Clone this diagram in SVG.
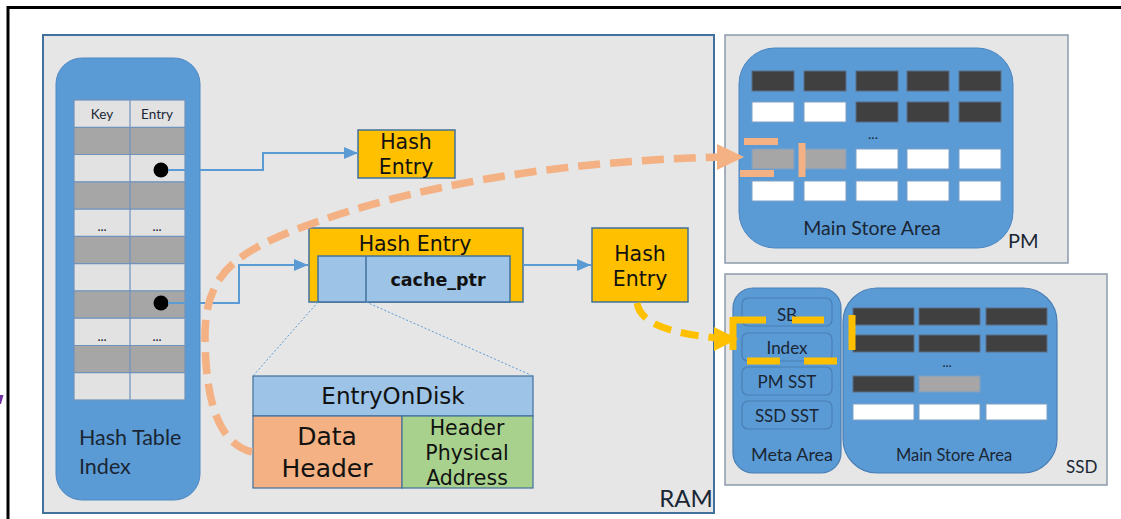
<svg xmlns="http://www.w3.org/2000/svg" width="1121" height="519" viewBox="0 0 1121 519">
  <style>
    .yel { fill: #ffc000; stroke: #41719c; stroke-width: 1.5; }
    .he { font-family: "DejaVu Sans", sans-serif; font-size: 20.5px; fill: #111; text-anchor: middle; }
    .lato { font-family: Lato, "Liberation Sans", sans-serif; fill: #1a2634; }
    .mid { text-anchor: middle; }
    .conn { fill: none; stroke: #5b9bd5; stroke-width: 2; }
    .thin { fill: none; stroke: #5b9bd5; stroke-width: 1; stroke-dasharray: 2 2; }
    .dk { fill: #404040; stroke: #5b6f86; stroke-width: 1; }
    .wh { fill: #ffffff; stroke: #7f9fc4; stroke-width: 1; }
    .gr { fill: #a6a6a6; stroke: #7f9fc4; stroke-width: 1; }
    .meta { fill: #5b9bd5; stroke: #4a7fb5; stroke-width: 1.2; }
    .tl { fill: #e2e2e2; }
    .tg { fill: #a6a6a6; }
  </style>
  <defs>
    <marker id="blueArrow" viewBox="0 0 14 12" refX="14" refY="6" markerWidth="14" markerHeight="12" markerUnits="userSpaceOnUse" orient="auto">
      <path d="M0,0 L14,6 L0,12 Z" fill="#5b9bd5"/>
    </marker>
  </defs>

  <rect width="1121" height="519" fill="#ffffff"/>
  <!-- outer frame -->
  <path d="M8,519 V7.5 H1121" fill="none" stroke="#000" stroke-width="3"/>
  <polygon points="0,395 3.5,395 1,404 0,404" fill="#7030a0"/>

  <!-- RAM container -->
  <g id="ram">
    <rect x="43" y="35" width="671" height="478" fill="#e6e6e6" stroke="#41719c" stroke-width="2"/>
    <text x="686" y="507" class="lato mid" font-size="24" fill="#111">RAM</text>
  </g>

  <!-- hash table index -->
  <g id="hash-table-index">
    <rect x="56" y="58" width="144" height="442" rx="26" fill="#5b9bd5" stroke="#4e88c4" stroke-width="1"/>
    <rect x="74" y="100" width="111" height="27.3" class="tl"/>
    <rect x="74" y="127.3" width="111" height="27.3" class="tg"/>
    <rect x="74" y="154.5" width="111" height="27.3" class="tl"/>
    <rect x="74" y="181.8" width="111" height="27.3" class="tg"/>
    <rect x="74" y="209.1" width="111" height="27.3" class="tl"/>
    <rect x="74" y="236.4" width="111" height="27.3" class="tg"/>
    <rect x="74" y="263.6" width="111" height="27.3" class="tl"/>
    <rect x="74" y="290.9" width="111" height="27.3" class="tg"/>
    <rect x="74" y="318.2" width="111" height="27.3" class="tl"/>
    <rect x="74" y="345.5" width="111" height="27.3" class="tg"/>
    <rect x="74" y="372.7" width="111" height="27.3" class="tl"/>
    <path d="M74,127.3 H185 M74,154.5 H185 M74,181.8 H185 M74,209.1 H185 M74,236.4 H185 M74,263.6 H185 M74,290.9 H185 M74,318.2 H185 M74,345.5 H185 M74,372.7 H185 M130,100 V400" stroke="#6f93bd" stroke-width="1.2" fill="none"/>
    <rect x="74" y="100" width="111" height="300" fill="none" stroke="#6f93bd" stroke-width="1.2"/>
    <text x="102" y="119" class="lato mid" font-size="13.5">Key</text>
    <text x="157" y="119" class="lato mid" font-size="13.5">Entry</text>
    <text x="102" y="230.5" class="lato mid" font-size="13">...</text>
    <text x="157" y="230.5" class="lato mid" font-size="13">...</text>
    <text x="102" y="340.5" class="lato mid" font-size="13">...</text>
    <text x="157" y="340.5" class="lato mid" font-size="13">...</text>
    <circle cx="161" cy="170" r="7.5" fill="#000"/>
    <circle cx="161" cy="303" r="7.5" fill="#000"/>
    <text x="79" y="445" class="lato" font-size="21.5">Hash Table</text>
    <text x="79" y="474" class="lato" font-size="21.5">Index</text>
  </g>

  <!-- hash entries -->
  <g id="hash-entry-top">
    <rect x="358" y="130" width="97" height="48" class="yel"/>
    <text x="406" y="149" class="he">Hash</text>
    <text x="406" y="174" class="he">Entry</text>
  </g>
  <g id="hash-entry-cached">
    <rect x="309" y="228" width="214" height="74" class="yel"/>
    <text x="415" y="251" class="he">Hash Entry</text>
    <rect x="318" y="256" width="192" height="46" fill="#9dc3e6" stroke="#41719c" stroke-width="1.5"/>
    <line x1="366" y1="256" x2="366" y2="302" stroke="#41719c" stroke-width="1.5"/>
    <text x="438" y="286" font-family="'DejaVu Sans', sans-serif" font-weight="bold" font-size="17.5" fill="#111" text-anchor="middle">cache_ptr</text>
  </g>
  <g id="hash-entry-next">
    <rect x="592" y="228" width="96" height="74" class="yel"/>
    <text x="640" y="261" class="he">Hash</text>
    <text x="640" y="286" class="he">Entry</text>
  </g>

  <!-- on-disk entry layout -->
  <g id="entry-on-disk">
    <rect x="253" y="376" width="280" height="40" fill="#9dc3e6" stroke="#41719c" stroke-width="1.2"/>
    <rect x="253" y="416" width="149" height="72" fill="#f4b183" stroke="#41719c" stroke-width="1.2"/>
    <rect x="402" y="416" width="131" height="72" fill="#a9d18e" stroke="#41719c" stroke-width="1.2"/>
    <text x="393" y="404" font-family="'DejaVu Sans', sans-serif" font-size="23" fill="#111" text-anchor="middle">EntryOnDisk</text>
    <text x="327" y="445" font-family="'DejaVu Sans', sans-serif" font-size="25" fill="#111" text-anchor="middle">Data</text>
    <text x="327" y="477" font-family="'DejaVu Sans', sans-serif" font-size="25" fill="#111" text-anchor="middle">Header</text>
    <text x="467" y="435" class="he" font-size="20">Header</text>
    <text x="467" y="460" class="he" font-size="20">Physical</text>
    <text x="467" y="485" class="he" font-size="20">Address</text>
  </g>

  <!-- PM device -->
  <g id="pm">
    <rect x="725" y="35" width="343" height="228" fill="#e6e6e6" stroke="#8d9bab" stroke-width="1.5"/>
    <rect x="739" y="48" width="274" height="200" rx="36" fill="#5b9bd5" stroke="#4a86c5" stroke-width="1"/>
    <rect x="752" y="71" width="42" height="20" class="dk"/>
    <rect x="804" y="71" width="42" height="20" class="dk"/>
    <rect x="856" y="71" width="42" height="20" class="dk"/>
    <rect x="907" y="71" width="42" height="20" class="dk"/>
    <rect x="959" y="71" width="42" height="20" class="dk"/>
    <rect x="752" y="102" width="42" height="20" class="wh"/>
    <rect x="804" y="102" width="42" height="20" class="wh"/>
    <rect x="856" y="102" width="42" height="20" class="dk"/>
    <rect x="907" y="102" width="42" height="20" class="dk"/>
    <rect x="959" y="102" width="42" height="20" class="dk"/>
    <text x="873" y="139" class="lato mid" font-size="14">...</text>
    <rect x="752" y="149" width="42" height="20" class="gr"/>
    <rect x="804" y="149" width="42" height="20" class="gr"/>
    <rect x="856" y="149" width="42" height="20" class="wh"/>
    <rect x="907" y="149" width="42" height="20" class="wh"/>
    <rect x="959" y="149" width="42" height="20" class="wh"/>
    <rect x="752" y="181" width="42" height="20" class="wh"/>
    <rect x="804" y="181" width="42" height="20" class="wh"/>
    <rect x="856" y="181" width="42" height="20" class="wh"/>
    <rect x="907" y="181" width="42" height="20" class="wh"/>
    <rect x="959" y="181" width="42" height="20" class="wh"/>
    <text x="872" y="235" class="lato mid" font-size="19.5">Main Store Area</text>
    <text x="1008" y="248" class="lato" font-size="20" fill="#111">PM</text>
  </g>

  <!-- SSD device -->
  <g id="ssd">
    <rect x="725" y="274" width="382" height="211" fill="#e6e6e6" stroke="#8d9bab" stroke-width="1.5"/>
    <rect x="733" y="288" width="108" height="185" rx="20" class="meta"/>
    <rect x="742" y="298" width="90" height="28" rx="6" class="meta"/>
    <rect x="742" y="333" width="90" height="28" rx="6" class="meta"/>
    <rect x="742" y="367" width="90" height="28" rx="6" class="meta"/>
    <rect x="742" y="401" width="90" height="28" rx="6" class="meta"/>
    <text x="787" y="321" class="lato mid" font-size="17">SB</text>
    <text x="787" y="354" class="lato mid" font-size="17">Index</text>
    <text x="787" y="388" class="lato mid" font-size="17">PM SST</text>
    <text x="787" y="422" class="lato mid" font-size="17">SSD SST</text>
    <text x="792" y="461" class="lato mid" font-size="18">Meta Area</text>
    <rect x="843" y="288" width="214" height="185" rx="34" class="meta"/>
    <rect x="853" y="308" width="61" height="17" class="dk"/>
    <rect x="919" y="308" width="61" height="17" class="dk"/>
    <rect x="986" y="308" width="61" height="17" class="dk"/>
    <rect x="853" y="335" width="61" height="17" class="dk"/>
    <rect x="919" y="335" width="61" height="17" class="dk"/>
    <rect x="986" y="335" width="61" height="17" class="dk"/>
    <text x="947" y="367" class="lato mid" font-size="13">...</text>
    <rect x="853" y="376" width="61" height="16" class="dk"/>
    <rect x="919" y="376" width="61" height="16" class="gr"/>
    <rect x="853" y="404" width="61" height="16" class="wh"/>
    <rect x="919" y="404" width="61" height="16" class="wh"/>
    <rect x="986" y="404" width="61" height="16" class="wh"/>
    <text x="954" y="461" class="lato mid" font-size="16.5">Main Store Area</text>
    <text x="1066" y="473" class="lato" font-size="17" fill="#111">SSD</text>
  </g>

  <!-- connectors -->
  <g id="connectors">
    <path d="M168,170 H263 V153 H358" class="conn" marker-end="url(#blueArrow)"/>
    <path d="M168,303 H239 V265 H308" class="conn" marker-end="url(#blueArrow)"/>
    <path d="M523,265 H591" class="conn" marker-end="url(#blueArrow)"/>
    <path d="M318,302 L253,376" class="thin"/>
    <path d="M366,302 L533,376" class="thin"/>

    <!-- data header -> PM main store -->
    <path d="M252,452 C220,444 206,405 205,340 C204,280 230,258 280,236 C380,194 530,162 720,157" fill="none" stroke="#f4b183" stroke-width="7.5" stroke-dasharray="22 10"/>
    <polygon points="717,144 744,157 717,170" fill="#f4b183"/>
    <path d="M744,141.5 H778 M740,173.5 H774 M802,143 V177" fill="none" stroke="#f4b183" stroke-width="7"/>

    <!-- hash entry -> SSD index -->
    <path d="M637,303 C641,325 672,333 716,338" fill="none" stroke="#ffc000" stroke-width="7" stroke-dasharray="18 10"/>
    <polygon points="714,327 738,339 714,351" fill="#ffc000"/>
    <path d="M733,320 H766 M792,320 H824 M733,317 V350 M747,361 H780 M804,361 H837 M852,315 V350" fill="none" stroke="#ffc000" stroke-width="7"/>
  </g>
</svg>
